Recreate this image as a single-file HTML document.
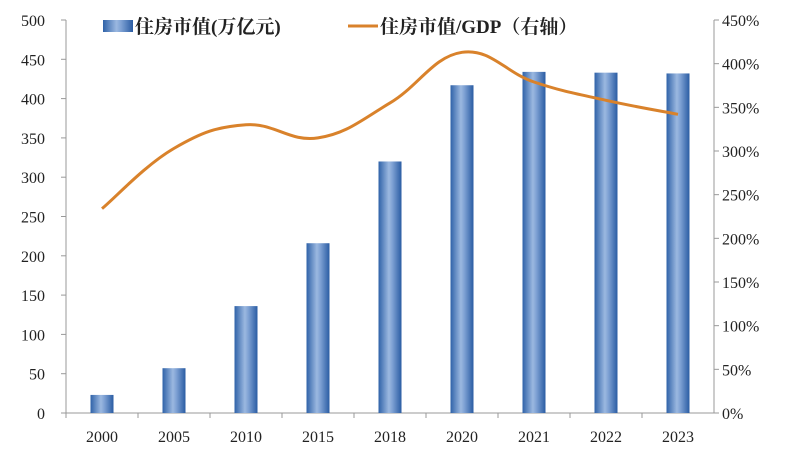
<!DOCTYPE html>
<html><head><meta charset="utf-8"><style>
body{margin:0;background:#fff;}
svg{display:block;font-family:"Liberation Serif","Noto Serif CJK SC",serif;}
</style></head><body>
<svg id="c" width="794" height="449">
<defs><linearGradient id="bg" x1="0" x2="1" y1="0" y2="0">
<stop offset="0" stop-color="#2f62a8"/><stop offset="0.45" stop-color="#9bb8e0"/><stop offset="0.6" stop-color="#7fa2d4"/><stop offset="1" stop-color="#2a5ca3"/></linearGradient></defs>
</svg>
<script>
const categories=["2000","2005","2010","2015","2018","2020","2021","2022","2023"];
const marketValue=[23,57,136,216,320,417,434,433,432];
const ratioPct=[234,303,330,315,355,413,379,358,342];
const leftTicks=[0,50,100,150,200,250,300,350,400,450,500];
const rightTicks=[0,50,100,150,200,250,300,350,400,450];
const ns="http://www.w3.org/2000/svg",svg=document.getElementById('c');
const X0=66,X1=714,Y0=413,Y1=20,bw=(X1-X0)/categories.length;
const yL=v=>Y0-(v/500)*(Y0-Y1), yR=v=>Y0-(v/450)*(Y0-Y1), xC=i=>X0+bw*(i+0.5);
function el(t,a,txt){const e=document.createElementNS(ns,t);for(const k in a)e.setAttribute(k,a[k]);if(txt!=null)e.textContent=txt;svg.appendChild(e);return e;}
let e;
e=el('line',{x1:X0,y1:Y1,x2:X0,y2:Y0,stroke:'#999'});
e=el('line',{x1:X1,y1:Y1,x2:X1,y2:Y0,stroke:'#999'});
e=el('line',{x1:X0,y1:Y0,x2:X1,y2:Y0,stroke:'#999'});
leftTicks.forEach(v=>{el('line',{x1:X0-5,x2:X0,y1:yL(v),y2:yL(v),stroke:'#999'});
e=el('text',{x:45,y:yL(v)+6,'text-anchor':'end','font-size':16,fill:'#222'},v);});
rightTicks.forEach(v=>{el('line',{x1:X1,x2:X1+5,y1:yR(v),y2:yR(v),stroke:'#999'});
e=el('text',{x:722,y:yR(v)+6,'font-size':16,fill:'#222'},v+'%');});
categories.forEach((c,i)=>{el('line',{x1:X0+bw*i,x2:X0+bw*i,y1:Y0,y2:Y0+5,stroke:'#999'});
e=el('text',{x:xC(i),y:442,'text-anchor':'middle','font-size':16,fill:'#222'},c);
e=el('rect',{x:xC(i)-11.5,y:yL(marketValue[i]),width:23,height:Y0-yL(marketValue[i]),fill:'url(#bg)'});});
const pts=ratioPct.map((v,i)=>[xC(i),yR(v)]);
let d='M'+pts[0];
for(let i=0;i<pts.length-1;i++){const p0=pts[i-1]||pts[i],p1=pts[i],p2=pts[i+1],p3=pts[i+2]||p2,t=0.2;
d+=' C'+(p1[0]+(p2[0]-p0[0])*t)+','+(p1[1]+(p2[1]-p0[1])*t)+' '+(p2[0]-(p3[0]-p1[0])*t)+','+(p2[1]-(p3[1]-p1[1])*t)+' '+p2;}
e=el('path',{d:d,fill:'none',stroke:'#d9822b','stroke-width':3});
e=el('rect',{x:103,y:20,width:30,height:12,fill:'url(#bg)'});
e=el('text',{x:135,y:33,'font-size':19,'font-weight':'bold',fill:'#222'},'住房市值(万亿元)');
e=el('line',{x1:348,x2:378,y1:26,y2:26,stroke:'#d9822b','stroke-width':3});
e=el('text',{x:380,y:33,'font-size':19,'font-weight':'bold',fill:'#222'},'住房市值/GDP（右轴）');
</script>
</body></html>
